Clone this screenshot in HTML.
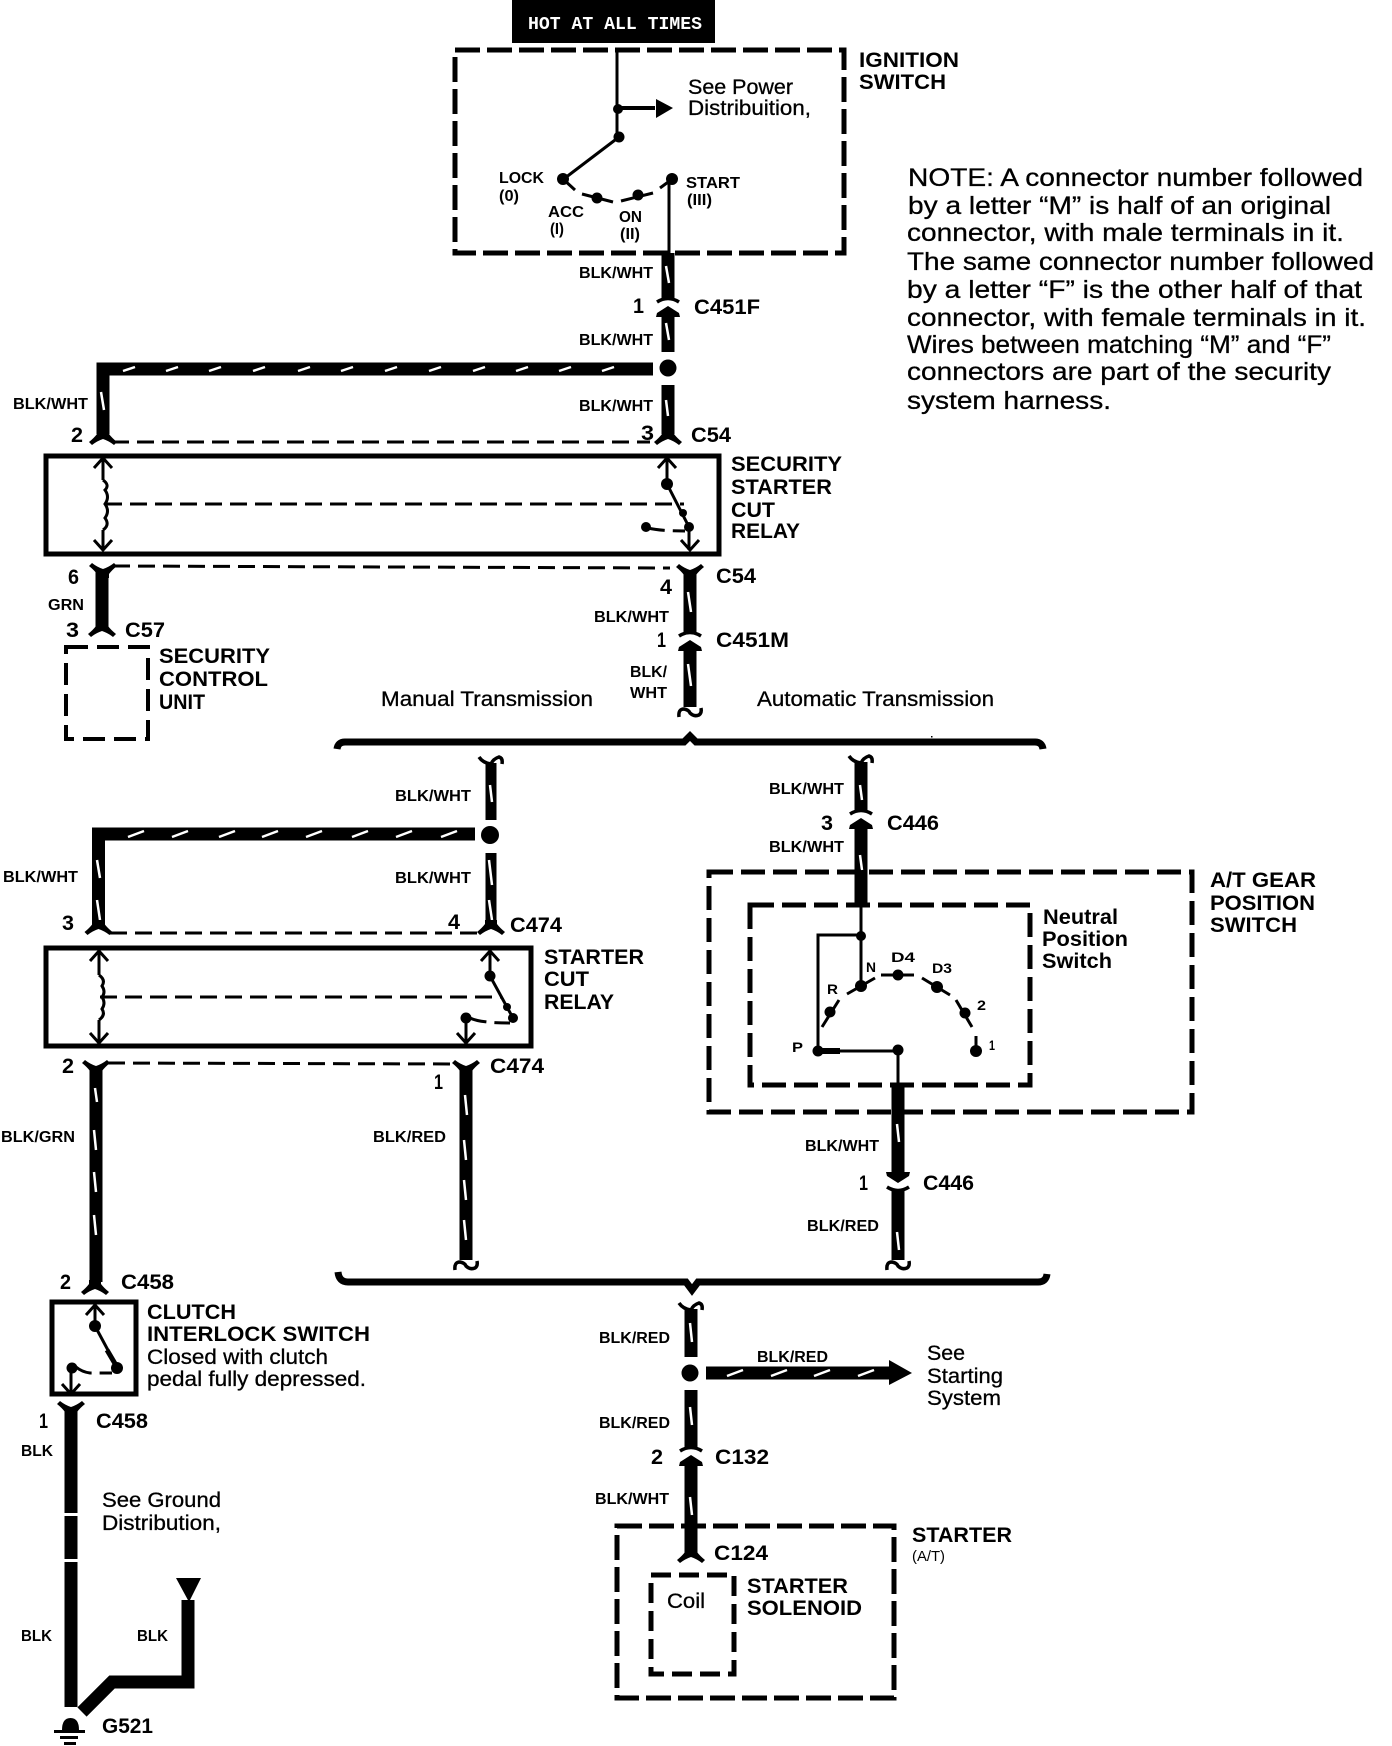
<!DOCTYPE html>
<html><head><meta charset="utf-8"><style>
html,body{margin:0;padding:0;background:#fff}
svg{display:block}
text{font-family:"Liberation Sans",sans-serif;fill:#000;transform:translate(-1px,-1px)}
.h{font-size:21px;font-weight:bold}
.w{font-size:15.5px;font-weight:bold}
.t{font-size:21px;stroke:#000;stroke-width:.3}
.n{font-size:25px;stroke:#000;stroke-width:.3}
.s{font-size:14px;font-weight:bold}
.s2{font-size:16px;font-weight:bold}
.box{fill:none;stroke:#000;stroke-width:5;stroke-dasharray:25 7}
.rel{fill:none;stroke:#000;stroke-width:5}
.wire{fill:none;stroke:#000;stroke-width:13}
.thin{fill:none;stroke:#000;stroke-width:3}
.dash{fill:none;stroke:#000;stroke-width:3;stroke-dasharray:17 8}
.sl{fill:none;stroke:#fff;stroke-width:2.5}
.cs{fill:none;stroke:#000;stroke-width:3.5}
</style></head><body>
<svg xmlns="http://www.w3.org/2000/svg" width="1392" height="1746" viewBox="0 0 1392 1746">
<defs>
<path id="fd" d="M-6,-10H6V-6Q9,-2 14,2L11,5Q6,1 0,-1Q-6,1 -11,5L-14,2Q-9,-2 -6,-6Z"/>
<path id="fu" d="M-6,10H6V6Q9,2 14,-2L11,-5Q6,-1 0,1Q-6,-1 -11,-5L-14,-2Q-9,2 -6,6Z"/>
<g id="cu"><path class="cs" d="M-11,-4Q0,-11 11,-4"/><path d="M0,0L11,7L12,11H6V13H-6V11H-12L-11,7Z"/></g>
<g id="cd"><path class="cs" d="M-11,4Q0,11 11,4"/><path d="M0,0L11,-7L12,-11H6V-13H-6V-11H-12L-11,-7Z"/></g>
<path id="hk" class="cs" d="M-11,8Q-12,0 -6,0Q-1,1 0,4Q4,8 9,6Q12,4 11,-1"/>
<path id="ht" class="cs" d="M-12,-3Q-8,3 0,4Q2,-1 8,-3Q12,-2 11,4"/>
<g id="ah"><path class="thin" d="M-9,10L0,0L9,10" stroke-width="2.5"/></g>
<g id="av"><path class="thin" d="M-9,-10L0,0L9,-10" stroke-width="2.5"/></g>
</defs>

<!-- HOT box -->
<rect x="512" y="0" width="203" height="43" fill="#000"/>
<text x="529" y="30" textLength="174" lengthAdjust="spacingAndGlyphs" style="font-family:'Liberation Mono',monospace;font-weight:bold;font-size:18px;fill:#fff">HOT AT ALL TIMES</text>

<!-- Ignition switch -->
<rect class="box" x="455" y="50" width="389" height="203"/>
<path class="thin" d="M617,50V137M619,137L565,178M669,183V253"/>
<path class="thin" style="stroke-width:4" d="M619,108H655"/>
<path d="M656,99L673,108L656,118Z"/>
<circle cx="618" cy="109" r="5"/><circle cx="619" cy="137" r="5.5"/>
<circle cx="563" cy="179" r="6"/><path class="thin" d="M563,179L575,190"/>
<circle cx="597" cy="198" r="5.5"/><path class="thin" d="M582,194L613,202"/>
<circle cx="638" cy="195" r="5.5"/><path class="thin" d="M621,201L653,193"/>
<circle cx="672" cy="179" r="6"/><path class="thin" d="M660,188L675,177"/>
<text class="t" x="689" y="95" textLength="105" lengthAdjust="spacingAndGlyphs">See Power</text>
<text class="t" x="689" y="116" textLength="123" lengthAdjust="spacingAndGlyphs">Distribuition,</text>
<text class="h" x="860" y="68" textLength="100" lengthAdjust="spacingAndGlyphs">IGNITION</text>
<text class="h" x="860" y="90" textLength="87" lengthAdjust="spacingAndGlyphs">SWITCH</text>
<text class="s2" x="500" y="184" textLength="45" lengthAdjust="spacingAndGlyphs">LOCK</text>
<text class="s2" x="500" y="202" textLength="20" lengthAdjust="spacingAndGlyphs">(0)</text>
<text class="s2" x="549" y="218" textLength="36" lengthAdjust="spacingAndGlyphs">ACC</text>
<text class="s2" x="551" y="235" textLength="14" lengthAdjust="spacingAndGlyphs">(I)</text>
<text class="s2" x="620" y="223" textLength="23" lengthAdjust="spacingAndGlyphs">ON</text>
<text class="s2" x="621" y="240" textLength="20" lengthAdjust="spacingAndGlyphs">(II)</text>
<text class="s2" x="687" y="189" textLength="54" lengthAdjust="spacingAndGlyphs">START</text>
<text class="s2" x="688" y="206" textLength="25" lengthAdjust="spacingAndGlyphs">(III)</text>

<!-- Note -->
<text class="n" x="909" y="187" textLength="455" lengthAdjust="spacingAndGlyphs">NOTE: A connector number followed</text>
<text class="n" x="909" y="215" textLength="423" lengthAdjust="spacingAndGlyphs">by a letter “M” is half of an original</text>
<text class="n" x="908" y="242" textLength="437" lengthAdjust="spacingAndGlyphs">connector, with male terminals in it.</text>
<text class="n" x="908" y="271" textLength="467" lengthAdjust="spacingAndGlyphs">The same connector number followed</text>
<text class="n" x="908" y="299" textLength="455" lengthAdjust="spacingAndGlyphs">by a letter “F” is the other half of that</text>
<text class="n" x="908" y="327" textLength="459" lengthAdjust="spacingAndGlyphs">connector, with female terminals in it.</text>
<text class="n" x="908" y="354" textLength="424" lengthAdjust="spacingAndGlyphs">Wires between matching “M” and “F”</text>
<text class="n" x="908" y="381" textLength="424" lengthAdjust="spacingAndGlyphs">connectors are part of the security</text>
<text class="n" x="908" y="410" textLength="204" lengthAdjust="spacingAndGlyphs">system harness.</text>

<!-- Wire from ignition -->
<path class="wire" d="M668,253V300M668,316V352M668,385V434"/>
<path class="sl" d="M666,266L669,283M666,323L669,340M666,400L668,416"/>
<use href="#cu" x="668" y="306"/>
<text class="w" x="580" y="279" textLength="74" lengthAdjust="spacingAndGlyphs">BLK/WHT</text>
<text class="w" x="580" y="346" textLength="74" lengthAdjust="spacingAndGlyphs">BLK/WHT</text>
<text class="h" x="634" y="314" textLength="11" lengthAdjust="spacingAndGlyphs">1</text>
<text class="h" x="695" y="315" textLength="66" lengthAdjust="spacingAndGlyphs">C451F</text>
<circle cx="668" cy="368" r="8.5"/>
<path class="wire" d="M653,369H103V434" stroke-linejoin="miter"/>
<path class="sl" d="M123,371L135,367M166,371L178,367M209,371L221,367M253,371L265,367M298,371L310,367M341,371L353,367M385,371L397,367M429,371L441,367M473,371L485,367M516,371L528,367M559,371L571,367M602,371L614,367M101,392L104,410"/>
<text class="w" x="14" y="410" textLength="75" lengthAdjust="spacingAndGlyphs">BLK/WHT</text>
<text class="w" x="580" y="412" textLength="74" lengthAdjust="spacingAndGlyphs">BLK/WHT</text>
<use href="#fd" x="103" y="440"/><use href="#fd" x="668" y="440"/>
<path class="dash" d="M112,442H650"/>
<text class="h" x="72" y="443" textLength="12" lengthAdjust="spacingAndGlyphs">2</text>
<text class="h" x="642" y="441" textLength="13" lengthAdjust="spacingAndGlyphs">3</text>
<text class="h" x="692" y="443" textLength="40" lengthAdjust="spacingAndGlyphs">C54</text>

<!-- Security starter cut relay -->
<rect class="rel" x="46" y="456" width="673" height="98"/>
<path class="thin" d="M103,457V480M103,530V550M103,480Q110,485 105,490Q110,497 105,504Q110,511 105,518Q110,525 103,530M667,457V484M667,484L689,527M689,527V550M689,527M105,504H106"/>
<path class="dash" d="M105,504H684"/>
<path class="dash" d="M648,528Q660,531 685,531" stroke-dasharray="8 8"/>
<use href="#ah" x="103" y="458"/><use href="#av" x="103" y="550"/>
<use href="#ah" x="667" y="458"/><use href="#av" x="690" y="550"/>
<circle cx="667" cy="484" r="6"/><circle cx="683" cy="513" r="4"/><circle cx="689" cy="527" r="5"/><circle cx="646" cy="527" r="5"/>
<text class="h" x="732" y="472" textLength="111" lengthAdjust="spacingAndGlyphs">SECURITY</text>
<text class="h" x="732" y="495" textLength="101" lengthAdjust="spacingAndGlyphs">STARTER</text>
<text class="h" x="732" y="518" textLength="44" lengthAdjust="spacingAndGlyphs">CUT</text>
<text class="h" x="732" y="539" textLength="69" lengthAdjust="spacingAndGlyphs">RELAY</text>

<!-- Below relay -->
<path class="wire" d="M102,570V627M690,570V632M690,648V707" />
<path class="sl" d="M688,592L691,612M688,664L691,686"/>
<use href="#fu" x="103" y="568"/><use href="#fu" x="690" y="569"/>
<use href="#fd" x="102" y="632"/>
<use href="#cu" x="690" y="640"/>
<path class="dash" d="M113,566L670,568"/>
<use href="#hk" x="690" y="709"/>
<text class="h" x="69" y="585" textLength="11" lengthAdjust="spacingAndGlyphs">6</text>
<text class="w" x="49" y="611" textLength="36" lengthAdjust="spacingAndGlyphs">GRN</text>
<text class="h" x="67" y="638" textLength="13" lengthAdjust="spacingAndGlyphs">3</text>
<text class="h" x="126" y="638" textLength="40" lengthAdjust="spacingAndGlyphs">C57</text>
<text class="h" x="717" y="584" textLength="40" lengthAdjust="spacingAndGlyphs">C54</text>
<text class="h" x="661" y="595" textLength="12" lengthAdjust="spacingAndGlyphs">4</text>
<text class="w" x="595" y="623" textLength="75" lengthAdjust="spacingAndGlyphs">BLK/WHT</text>
<text class="h" x="658" y="648" textLength="9" lengthAdjust="spacingAndGlyphs">1</text>
<text class="h" x="717" y="648" textLength="73" lengthAdjust="spacingAndGlyphs">C451M</text>
<text class="w" x="631" y="678" textLength="37" lengthAdjust="spacingAndGlyphs">BLK/</text>
<text class="w" x="631" y="699" textLength="37" lengthAdjust="spacingAndGlyphs">WHT</text>
<text class="t" x="382" y="707" textLength="212" lengthAdjust="spacingAndGlyphs">Manual Transmission</text>
<text class="t" x="758" y="707" textLength="237" lengthAdjust="spacingAndGlyphs">Automatic Transmission</text>

<!-- Security control unit -->
<rect class="box" x="66" y="647" width="82" height="92" style="stroke-width:4;stroke-dasharray:22 9"/>
<text class="h" x="160" y="664" textLength="111" lengthAdjust="spacingAndGlyphs">SECURITY</text>
<text class="h" x="160" y="687" textLength="109" lengthAdjust="spacingAndGlyphs">CONTROL</text>
<text class="h" x="160" y="710" textLength="46" lengthAdjust="spacingAndGlyphs">UNIT</text>

<!-- Top bus -->
<path fill="none" stroke="#000" stroke-width="7" d="M337,749Q338,742 345,742H684L690,736L696,742H1035Q1042,742 1043,749"/>
<rect x="931" y="736" width="1.5" height="1.5"/>

<!-- Manual branch top -->
<use href="#ht" x="491" y="760"/>
<path class="wire" d="M491,763V820M491,853V926" style="stroke-width:11"/>
<path class="sl" d="M490,785L492,802M489,860L492,885M489,900L492,920"/>
<circle cx="490" cy="835" r="9"/>
<path class="wire" d="M475,834H98.500V926"/>
<path class="sl" d="M128,837L144,831M172,837L188,831M219,837L235,831M262,837L278,831M306,837L322,831M352,837L368,831M396,837L412,831M441,837L457,831M97,860L100,878M97,900L100,920"/>
<text class="w" x="396" y="802" textLength="76" lengthAdjust="spacingAndGlyphs">BLK/WHT</text>
<text class="w" x="396" y="884" textLength="76" lengthAdjust="spacingAndGlyphs">BLK/WHT</text>
<text class="w" x="4" y="883" textLength="75" lengthAdjust="spacingAndGlyphs">BLK/WHT</text>
<use href="#fd" x="98.500" y="930"/><use href="#fd" x="491" y="930"/>
<path class="dash" d="M110,933H478"/>
<text class="h" x="63" y="931" textLength="12" lengthAdjust="spacingAndGlyphs">3</text>
<text class="h" x="449" y="930" textLength="12" lengthAdjust="spacingAndGlyphs">4</text>
<text class="h" x="511" y="933" textLength="52" lengthAdjust="spacingAndGlyphs">C474</text>

<!-- Starter cut relay -->
<rect class="rel" x="46" y="948" width="485" height="98"/>
<path class="thin" d="M99,950V975M99,1020V1043M99,975Q106,980 102,986Q106,992 102,997Q106,1003 102,1009Q106,1015 99,1020M490,950V976M490,976L513,1018M466,1018V1043"/>
<path class="dash" d="M100,997H502"/>
<path class="dash" d="M470,1018Q480,1023 510,1023" stroke-dasharray="8 7"/>
<use href="#ah" x="99" y="951"/><use href="#av" x="99" y="1043"/>
<use href="#ah" x="490" y="951"/><use href="#av" x="466" y="1043"/>
<circle cx="490" cy="976" r="5.500"/><circle cx="507" cy="1007" r="4"/><circle cx="513" cy="1018" r="5"/><circle cx="466" cy="1018" r="5.500"/>
<text class="h" x="545" y="965" textLength="100" lengthAdjust="spacingAndGlyphs">STARTER</text>
<text class="h" x="545" y="987" textLength="45" lengthAdjust="spacingAndGlyphs">CUT</text>
<text class="h" x="545" y="1010" textLength="70" lengthAdjust="spacingAndGlyphs">RELAY</text>

<!-- Below starter relay -->
<use href="#fu" x="96" y="1065"/><use href="#fu" x="466" y="1065"/>
<path class="wire" d="M96,1070V1282M466,1070V1260"/>
<path class="sl" d="M95,1088L97,1102M94,1130L96,1150M94,1172L96,1192M94,1215L96,1235M465,1095L467,1115M464,1140L466,1160M464,1180L466,1200M464,1220L466,1240"/>
<path class="dash" d="M108,1063L456,1064"/>
<use href="#hk" x="466" y="1262"/>
<text class="h" x="63" y="1074" textLength="12" lengthAdjust="spacingAndGlyphs">2</text>
<text class="h" x="491" y="1074" textLength="54" lengthAdjust="spacingAndGlyphs">C474</text>
<text class="h" x="435" y="1090" textLength="9" lengthAdjust="spacingAndGlyphs">1</text>
<text class="w" x="2" y="1143" textLength="74" lengthAdjust="spacingAndGlyphs">BLK/GRN</text>
<text class="w" x="374" y="1143" textLength="73" lengthAdjust="spacingAndGlyphs">BLK/RED</text>

<!-- AT branch -->
<use href="#ht" x="861" y="759"/>
<path class="wire" d="M861,762V812M861,825V906"/>
<use href="#cu" x="861" y="818"/>
<path class="sl" d="M860,785L862,800M860,855L862,870"/>
<text class="w" x="770" y="795" textLength="75" lengthAdjust="spacingAndGlyphs">BLK/WHT</text>
<text class="w" x="770" y="853" textLength="75" lengthAdjust="spacingAndGlyphs">BLK/WHT</text>
<text class="h" x="822" y="831" textLength="12" lengthAdjust="spacingAndGlyphs">3</text>
<text class="h" x="888" y="831" textLength="52" lengthAdjust="spacingAndGlyphs">C446</text>
<rect class="box" x="709" y="872" width="483" height="240" style="stroke-dasharray:24 8"/>
<rect class="box" x="750" y="905" width="280" height="180" style="stroke-dasharray:24 8"/>
<path class="thin" d="M861,905V987M861,935H818V1051M818,1051H898M898,1050V1085"/>
<path class="thin" d="M847,994L875,978M822,1027L839,1000M881,975H914M922,978L950,995M956,1000L972,1027M976,1036V1051"/>
<path d="M818,1048H840V1054H818Z"/>
<circle cx="861" cy="936" r="5"/><circle cx="861" cy="986" r="6"/><circle cx="830" cy="1012" r="5.500"/><circle cx="898" cy="975" r="5.500"/><circle cx="937" cy="987" r="6"/><circle cx="965" cy="1013" r="5.500"/><circle cx="976" cy="1051" r="6"/><circle cx="818" cy="1051" r="5.500"/><circle cx="898" cy="1050" r="5.500"/>
<text class="s" x="867" y="973" textLength="10" lengthAdjust="spacingAndGlyphs">N</text>
<text class="s" x="892" y="963" textLength="24" lengthAdjust="spacingAndGlyphs">D4</text>
<text class="s" x="933" y="974" textLength="20" lengthAdjust="spacingAndGlyphs">D3</text>
<text class="s" x="828" y="995" textLength="11" lengthAdjust="spacingAndGlyphs">R</text>
<text class="s" x="978" y="1011" textLength="9" lengthAdjust="spacingAndGlyphs">2</text>
<text class="s" x="990" y="1051" textLength="6" lengthAdjust="spacingAndGlyphs">1</text>
<text class="s" x="793" y="1053" textLength="11" lengthAdjust="spacingAndGlyphs">P</text>
<text class="h" x="1044" y="925" textLength="75" lengthAdjust="spacingAndGlyphs">Neutral</text>
<text class="h" x="1043" y="947" textLength="86" lengthAdjust="spacingAndGlyphs">Position</text>
<text class="h" x="1043" y="969" textLength="70" lengthAdjust="spacingAndGlyphs">Switch</text>
<text class="h" x="1211" y="888" textLength="106" lengthAdjust="spacingAndGlyphs">A/T GEAR</text>
<text class="h" x="1211" y="911" textLength="105" lengthAdjust="spacingAndGlyphs">POSITION</text>
<text class="h" x="1211" y="933" textLength="87" lengthAdjust="spacingAndGlyphs">SWITCH</text>
<path class="wire" d="M898,1085V1176M898,1190V1260"/>
<use href="#cd" x="898" y="1183"/>
<path class="sl" d="M897,1124L899,1142M897,1232L899,1250"/>
<text class="w" x="806" y="1152" textLength="74" lengthAdjust="spacingAndGlyphs">BLK/WHT</text>
<text class="w" x="808" y="1232" textLength="72" lengthAdjust="spacingAndGlyphs">BLK/RED</text>
<text class="h" x="860" y="1191" textLength="9" lengthAdjust="spacingAndGlyphs">1</text>
<text class="h" x="924" y="1191" textLength="51" lengthAdjust="spacingAndGlyphs">C446</text>
<use href="#hk" x="898" y="1262"/>

<!-- Bottom bus -->
<path fill="none" stroke="#000" stroke-width="7" d="M338,1272Q339,1282 348,1282H686L692,1290L698,1282H1038Q1046,1282 1047,1274"/>

<!-- Clutch -->
<use href="#fd" x="95" y="1290"/>
<rect class="rel" x="52" y="1302" width="84" height="92"/>
<path class="thin" d="M95,1305V1326M95,1326L117,1367M71,1370V1394"/>
<path fill="none" stroke="#000" stroke-width="5" d="M107,1350L117,1367"/>
<path class="dash" d="M76,1367Q82,1372 90,1373H112" stroke-dasharray="10 12"/>
<use href="#ah" x="95" y="1305"/><use href="#av" x="71" y="1394"/>
<circle cx="95" cy="1326" r="6"/><circle cx="117" cy="1368" r="6"/><circle cx="72" cy="1368" r="5.500"/>
<text class="h" x="61" y="1290" textLength="11" lengthAdjust="spacingAndGlyphs">2</text>
<text class="h" x="122" y="1290" textLength="53" lengthAdjust="spacingAndGlyphs">C458</text>
<text class="h" x="148" y="1320" textLength="89" lengthAdjust="spacingAndGlyphs">CLUTCH</text>
<text class="h" x="148" y="1342" textLength="223" lengthAdjust="spacingAndGlyphs">INTERLOCK SWITCH</text>
<text class="t" x="148" y="1365" textLength="181" lengthAdjust="spacingAndGlyphs">Closed with clutch</text>
<text class="t" x="148" y="1387" textLength="219" lengthAdjust="spacingAndGlyphs">pedal fully depressed.</text>
<use href="#fu" x="71" y="1406"/>
<path class="wire" d="M71,1410V1707"/>
<rect x="64" y="1513" width="14" height="3" fill="#fff"/><rect x="64" y="1559" width="14" height="3" fill="#fff"/>
<text class="h" x="40" y="1429" textLength="9" lengthAdjust="spacingAndGlyphs">1</text>
<text class="h" x="97" y="1429" textLength="52" lengthAdjust="spacingAndGlyphs">C458</text>
<text class="w" x="22" y="1457" textLength="32" lengthAdjust="spacingAndGlyphs">BLK</text>
<text class="t" x="103" y="1508" textLength="119" lengthAdjust="spacingAndGlyphs">See Ground</text>
<text class="t" x="103" y="1531" textLength="119" lengthAdjust="spacingAndGlyphs">Distribution,</text>
<text class="w" x="22" y="1642" textLength="31" lengthAdjust="spacingAndGlyphs">BLK</text>
<text class="w" x="138" y="1642" textLength="31" lengthAdjust="spacingAndGlyphs">BLK</text>
<path d="M176,1578H201L189,1602Z"/>
<path class="wire" d="M188,1600V1682H112L82,1712" stroke-linejoin="miter"/>
<path d="M62,1730Q62,1718 70.500,1718Q79,1718 79,1730Z"/>
<rect x="54" y="1730" width="31" height="3"/><rect x="60" y="1736" width="18" height="3"/><rect x="64" y="1742" width="12" height="3"/>
<text class="h" x="103" y="1734" textLength="51" lengthAdjust="spacingAndGlyphs">G521</text>

<!-- Lower center -->
<use href="#ht" x="691" y="1306"/>
<path class="wire" d="M691,1309V1357M691,1390V1449M691,1460V1553"/>
<path class="sl" d="M690,1323L692,1342M690,1407L692,1425M690,1497L692,1515"/>
<circle cx="690" cy="1373" r="8.500"/>
<path class="wire" d="M706,1373H892"/>
<path d="M889,1360L912,1373L889,1385Z"/>
<path class="sl" d="M727,1376L743,1370M771,1376L787,1370M814,1376L830,1370M858,1376L874,1370"/>
<use href="#cu" x="691" y="1455"/>
<use href="#fd" x="691" y="1558"/>
<text class="w" x="600" y="1344" textLength="71" lengthAdjust="spacingAndGlyphs">BLK/RED</text>
<text class="w" x="758" y="1363" textLength="71" lengthAdjust="spacingAndGlyphs">BLK/RED</text>
<text class="w" x="600" y="1429" textLength="71" lengthAdjust="spacingAndGlyphs">BLK/RED</text>
<text class="w" x="596" y="1505" textLength="74" lengthAdjust="spacingAndGlyphs">BLK/WHT</text>
<text class="t" x="928" y="1361" textLength="38" lengthAdjust="spacingAndGlyphs">See</text>
<text class="t" x="928" y="1384" textLength="76" lengthAdjust="spacingAndGlyphs">Starting</text>
<text class="t" x="928" y="1406" textLength="74" lengthAdjust="spacingAndGlyphs">System</text>
<text class="h" x="652" y="1465" textLength="12" lengthAdjust="spacingAndGlyphs">2</text>
<text class="h" x="716" y="1465" textLength="54" lengthAdjust="spacingAndGlyphs">C132</text>
<rect class="box" x="617" y="1526" width="277" height="172"/>
<rect class="box" x="651" y="1575" width="83" height="99" style="stroke-dasharray:20 8"/>
<path class="wire" d="M691,1526V1553"/>
<text class="h" x="715" y="1561" textLength="54" lengthAdjust="spacingAndGlyphs">C124</text>
<text class="h" x="913" y="1543" textLength="100" lengthAdjust="spacingAndGlyphs">STARTER</text>
<text x="913" y="1562" textLength="33" lengthAdjust="spacingAndGlyphs" style="font-size:15px">(A/T)</text>
<text class="h" x="748" y="1594" textLength="101" lengthAdjust="spacingAndGlyphs">STARTER</text>
<text class="h" x="748" y="1616" textLength="115" lengthAdjust="spacingAndGlyphs">SOLENOID</text>
<text class="t" x="668" y="1609" textLength="38" lengthAdjust="spacingAndGlyphs">Coil</text>
</svg>
</body></html>
